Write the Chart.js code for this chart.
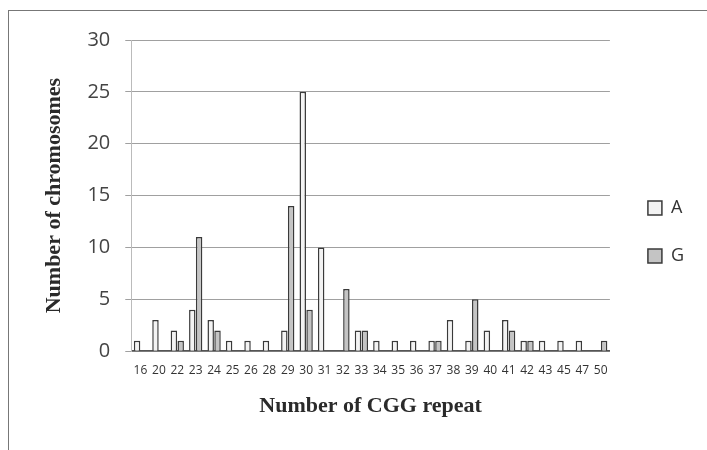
<!DOCTYPE html>
<html>
<head>
<meta charset="utf-8">
<script src="https://cdn.jsdelivr.net/npm/chart.js@4/dist/chart.umd.min.js"></script>
<style>
  html, body { margin: 0; padding: 0; background: #fff; }
  #frame {
    position: absolute; left: 8px; top: 10px; width: 699px; height: 440px;
    border-top: 1px solid #777; border-left: 1px solid #777; box-sizing: border-box;
  }
  #wrap { position: absolute; left: 0; top: 0; width: 707px; height: 450px; }
</style>
</head>
<body>
<div id="frame"></div>
<div id="wrap"><canvas id="chart" width="707" height="450"></canvas></div>
<script>
// CGG repeat counts per allele
const repeats = ["16","20","22","23","24","25","26","28","29","30","31","32","33","34","35","36","37","38","39","40","41","42","43","45","47","50"];
const countA  = [1, 3, 2, 4, 3, 1, 1, 1, 2, 25, 10, 0, 2, 1, 1, 1, 1, 3, 1, 2, 3, 1, 1, 1, 1, 0];
const countG  = [0, 0, 1, 11, 2, 0, 0, 0, 14, 4, 0, 6, 2, 0, 0, 0, 1, 0, 5, 0, 2, 1, 0, 0, 0, 1];
const yTicks  = [0, 5, 10, 15, 20, 25, 30];

const ctx = document.getElementById("chart").getContext("2d");

// widen the legend box so the plot ends where the original does,
// then push the legend items back to the right
const legendWiden = {
  id: "legendWiden",
  beforeInit(chart) {
    const fit = chart.legend.fit;
    const draw = chart.legend.draw;
    chart.legend.fit = function () { fit.call(this); this.width += 9; };
    chart.legend.draw = function () {
      const c = this.ctx;
      c.save(); c.translate(8, 0); draw.call(this); c.restore();
    };
  }
};

new Chart(ctx, {
  type: "bar",
  data: {
    labels: repeats,
    datasets: [
      { label: "A", data: countA, backgroundColor: "#f3f3f3", borderColor: "#3a3a3a", borderWidth: 1.5 },
      { label: "G", data: countG, backgroundColor: "#c4c4c4", borderColor: "#3a3a3a", borderWidth: 1.5 }
    ]
  },
  plugins: [legendWiden],
  options: {
    responsive: false,
    animation: false,
    layout: { padding: { left: 37, top: 40, right: 12, bottom: 26 } },
    datasets: { bar: { barPercentage: 0.95, categoryPercentage: 0.74 } },
    plugins: {
      legend: {
        position: "right",
        labels: {
          boxWidth: 14, boxHeight: 14, padding: 30,
          color: "#333",
          font: { family: "'Open Sans', 'Liberation Sans', sans-serif", size: 18 }
        }
      },
      tooltip: { enabled: false }
    },
    scales: {
      x: {
        grid: { display: false },
        border: { color: "#555", width: 1.5 },
        ticks: {
          color: "#333", maxRotation: 0, autoSkip: false, padding: 4,
          font: { family: "'Open Sans', 'Liberation Sans', sans-serif", size: 12 }
        },
        title: {
          display: true, text: "Number of CGG repeat", color: "#2a2a2a", padding: { top: 12 },
          font: { family: "'Liberation Serif', serif", size: 22, weight: "bold" }
        }
      },
      y: {
        min: 0, max: 30,
        afterBuildTicks: (axis) => { axis.ticks = yTicks.map(v => ({ value: v })); },
        grid: { color: "#a0a0a0", lineWidth: 1, drawTicks: true, tickLength: 6 },
        border: { display: true, color: "#bbb" },
        ticks: {
          color: "#444", padding: 15,
          font: { family: "'Open Sans', 'Liberation Sans', sans-serif", size: 20 }
        },
        title: {
          display: true, text: "Number of chromosomes", color: "#2a2a2a", padding: { bottom: 5 },
          font: { family: "'Liberation Serif', serif", size: 22, weight: "bold" }
        }
      }
    }
  }
});
</script>
</body>
</html>
